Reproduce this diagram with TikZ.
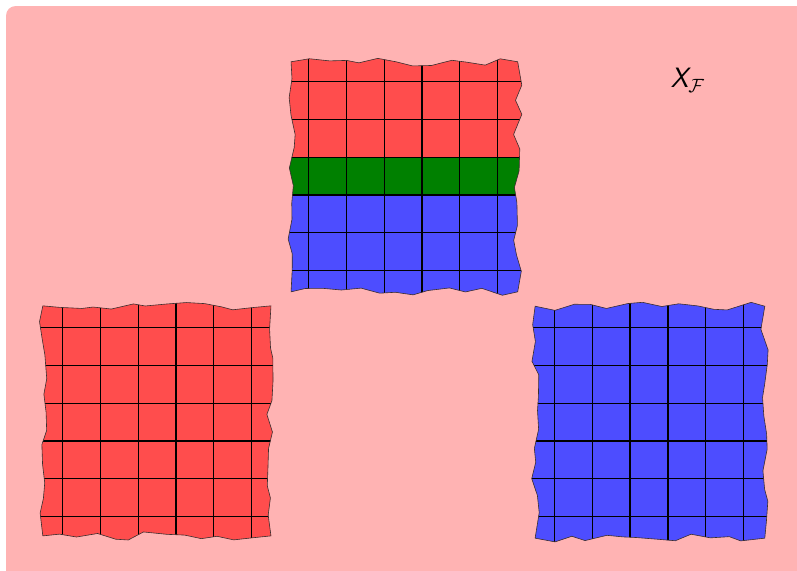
\documentclass[tikz,border=0pt]{standalone}
\usepackage{tikz}
\usepackage{xcolor}
\usetikzlibrary{decorations.pathmorphing}
\definecolor{bgpink}{HTML}{FFB3B3}
\definecolor{patchred}{HTML}{FF4D4D}
\definecolor{patchblue}{HTML}{4D4DFF}
\definecolor{patchgreen}{HTML}{008000}
\definecolor{edgeink}{HTML}{3A2E2E}
\tikzset{
  torn/.style={decorate,decoration={random steps,segment length=4.6mm,amplitude=1.1mm}},
  tornedge/.style={torn,draw=edgeink,line width=0.45pt},
  cellline/.style={draw=black,line width=0.85pt},
  setlabel/.style={font=\fontsize{21}{25}\selectfont,inner sep=0pt}
}

\begin{document}
\begin{tikzpicture}[x=1cm,y=-1cm]
  \useasboundingbox (0,0) rectangle (21.03,15.066);
  \fill[bgpink,rounded corners=0.25cm] (0.16,0.16) rectangle (21.6,15.6);

  % top patch: red / green / blue bands
  \pgfmathsetseed{7}
  \begin{scope}
    \clip[torn] (7.68,1.63) rectangle (13.66,7.7);
    \fill[patchred] (7,1) rectangle (14.5,4.145);
    \fill[patchgreen] (7,4.145) rectangle (14.5,5.145);
    \fill[patchblue] (7,5.145) rectangle (14.5,8.5);
    \foreach \k in {0,...,5} {
      \draw[cellline] (8.135+\k,1.2) -- (8.135+\k,8.2);
      \draw[cellline] (7.2,2.145+\k) -- (14.2,2.145+\k);
    }
  \end{scope}
  \pgfmathsetseed{7}
  \draw[tornedge] (7.68,1.63) rectangle (13.66,7.7);

  % left patch
  \pgfmathsetseed{21}
  \begin{scope}
    \clip[torn] (1.13,8.07) rectangle (7.15,14.14);
    \fill[patchred] (0.5,7.5) rectangle (7.8,14.8);
    \foreach \k in {0,...,5} {
      \draw[cellline] (1.644+\k,7.6) -- (1.644+\k,14.6);
      \draw[cellline] (0.6,8.636+\k) -- (7.7,8.636+\k);
    }
  \end{scope}
  \pgfmathsetseed{21}
  \draw[tornedge] (1.13,8.07) rectangle (7.15,14.14);

  % right patch
  \pgfmathsetseed{42}
  \begin{scope}
    \clip[torn] (14.12,8.08) rectangle (20.18,14.2);
    \fill[patchblue] (13.5,7.5) rectangle (20.8,14.8);
    \foreach \k in {0,...,5} {
      \draw[cellline] (14.625+\k,7.6) -- (14.625+\k,14.6);
      \draw[cellline] (13.6,8.636+\k) -- (20.7,8.636+\k);
    }
  \end{scope}
  \pgfmathsetseed{42}
  \draw[tornedge] (14.12,8.08) rectangle (20.18,14.2);

  \node[setlabel] (xf) at (18.15,2.12) {{\sffamily\itshape X}$_{\mathcal{F}}$};
\end{tikzpicture}
\end{document}
